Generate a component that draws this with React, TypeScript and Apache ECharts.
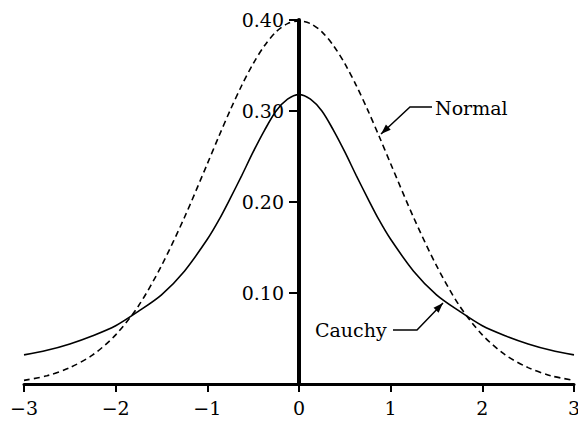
import React, { useEffect, useRef } from "react";
import * as echarts from "echarts";

const xValues = [-3, -2.75, -2.5, -2.25, -2, -1.75, -1.5, -1.25, -1, -0.875, -0.75, -0.625, -0.5, -0.375, -0.25, -0.125, 0, 0.125, 0.25, 0.375, 0.5, 0.625, 0.75, 0.875, 1, 1.25, 1.5, 1.75, 2, 2.25, 2.5, 2.75, 3];
const normalValues = [0.004, 0.009, 0.018, 0.032, 0.054, 0.086, 0.13, 0.183, 0.242, 0.272, 0.301, 0.328, 0.352, 0.372, 0.387, 0.396, 0.399, 0.396, 0.387, 0.372, 0.352, 0.328, 0.301, 0.272, 0.242, 0.183, 0.13, 0.086, 0.054, 0.032, 0.018, 0.009, 0.004];
const cauchyValues = [0.032, 0.037, 0.044, 0.053, 0.064, 0.08, 0.098, 0.124, 0.159, 0.18, 0.204, 0.229, 0.255, 0.279, 0.3, 0.313, 0.318, 0.313, 0.3, 0.279, 0.255, 0.229, 0.204, 0.18, 0.159, 0.124, 0.098, 0.08, 0.064, 0.053, 0.044, 0.037, 0.032];
const yTickLabels = ["0.10", "0.20", "0.30", "0.40"];
const xTickLabels = ["−3", "−2", "−1", "0", "1", "2", "3"];
const seriesNames = ["Normal", "Cauchy"];

const FONT = "'DejaVu Serif', 'Liberation Serif', serif";

function arrowHead(tip: number[], from: number[], len: number, half: number) {
  const dx = tip[0] - from[0];
  const dy = tip[1] - from[1];
  const d = Math.hypot(dx, dy);
  const ux = dx / d;
  const uy = dy / d;
  const bx = tip[0] - ux * len;
  const by = tip[1] - uy * len;
  return [
    [tip[0], tip[1]],
    [bx - uy * half, by + ux * half],
    [bx + uy * half, by - ux * half],
  ];
}

function annotation(label: string, textX: number, textY: number, pts: number[][]) {
  const tip = pts[pts.length - 1];
  const prev = pts[pts.length - 2];
  return [
    {
      type: "text",
      x: textX,
      y: textY,
      style: { text: label, font: `19px ${FONT}`, fill: "#000", textVerticalAlign: "middle" },
    },
    {
      type: "polyline",
      shape: { points: pts },
      style: { stroke: "#000", lineWidth: 1.5, fill: "none" },
    },
    {
      type: "polygon",
      shape: { points: arrowHead(tip, prev, 10, 3.5) },
      style: { fill: "#000" },
    },
  ];
}

const GRID_LEFT = 24;
const GRID_RIGHT = 4;
const GRID_TOP = 20;
const GRID_BOTTOM = 40;
const CHART_W = 578;

export default function App() {
  const ref = useRef<HTMLDivElement>(null);
  useEffect(() => {
    const chart = echarts.init(ref.current!, null, { renderer: "svg" });
    const plotW = CHART_W - GRID_LEFT - GRID_RIGHT;
    const yLabelFmt = (v: number) => {
      const i = Math.round(v * 10) - 1;
      return i >= 0 ? yTickLabels[i] : "";
    };
    chart.setOption({
      animation: false,
      backgroundColor: "#fff",
      grid: [
        { left: GRID_LEFT, right: GRID_RIGHT, top: GRID_TOP, bottom: GRID_BOTTOM, containLabel: false, outerBoundsMode: "none" },
        { left: GRID_LEFT + plotW / 2, right: GRID_RIGHT, top: GRID_TOP, bottom: GRID_BOTTOM, containLabel: false, outerBoundsMode: "none" },
      ],
      xAxis: [
        {
          type: "value",
          gridIndex: 0,
          min: -3,
          max: 3,
          interval: 1,
          splitLine: { show: false },
          axisLine: { onZero: false, lineStyle: { color: "#000", width: 3 } },
          axisTick: { length: 8, lineStyle: { color: "#000", width: 2 } },
          axisLabel: {
            margin: 14,
            color: "#000",
            fontFamily: FONT,
            fontSize: 19,
            showMaxLabel: true,
            showMinLabel: true,
            formatter: (v: number) => xTickLabels[Math.round(v) + 3],
          },
        },
        { type: "value", gridIndex: 1, min: 0, max: 3, show: false },
      ],
      yAxis: [
        { type: "value", gridIndex: 0, min: 0, max: 0.4, interval: 0.1, show: false },
        {
          type: "value",
          gridIndex: 1,
          min: 0,
          max: 0.4,
          interval: 0.1,
          position: "left",
          splitLine: { show: false },
          axisLine: { onZero: false, lineStyle: { color: "#000", width: 4 } },
          axisTick: { length: 10, lineStyle: { color: "#000", width: 2 } },
          axisLabel: {
            margin: 15,
            color: "#000",
            fontFamily: FONT,
            fontSize: 19,
            formatter: yLabelFmt,
          },
          z: 5,
        },
      ],
      series: [
        {
          name: seriesNames[0],
          type: "line",
          xAxisIndex: 0,
          yAxisIndex: 0,
          data: xValues.map((x, i) => [x, normalValues[i]]),
          smooth: 0.3,
          showSymbol: false,
          lineStyle: { color: "#000", width: 1.6, type: [6, 4] },
          z: 3,
        },
        {
          name: seriesNames[1],
          type: "line",
          xAxisIndex: 0,
          yAxisIndex: 0,
          data: xValues.map((x, i) => [x, cauchyValues[i]]),
          smooth: 0.3,
          showSymbol: false,
          lineStyle: { color: "#000", width: 1.6 },
          z: 3,
        },
      ],
      graphic: [
        ...annotation(seriesNames[0], 435, 108, [[432, 107], [410, 107], [381, 134]]),
        ...annotation(seriesNames[1], 315, 330, [[393, 330], [417, 330], [443, 303]]),
      ],
    });
    return () => chart.dispose();
  }, []);
  return (
    <div
      ref={ref}
      style={{ position: "fixed", left: 0, top: 0, width: CHART_W, height: 424 }}
    />
  );
}
